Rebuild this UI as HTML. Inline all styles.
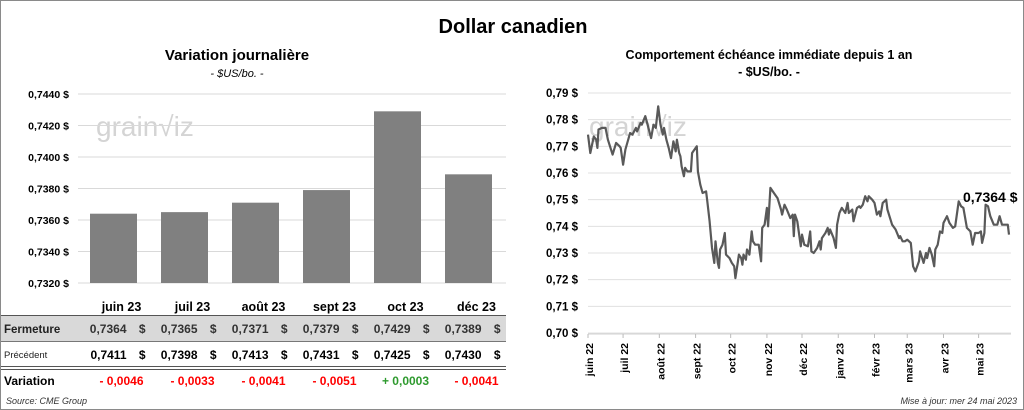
<!DOCTYPE html>
<html><head><meta charset="utf-8"><style>
body{margin:0;background:#fff;}
#wrap{position:relative;width:1022px;height:408px;border:1px solid #8a8a8a;overflow:hidden;font-family:"Liberation Sans",sans-serif;}
svg text{font-family:"Liberation Sans",sans-serif;}
</style></head><body>
<div id="wrap">
<svg id="svg" width="1022" height="408" xmlns="http://www.w3.org/2000/svg">
<text x="512" y="32" text-anchor="middle" font-size="20" font-weight="bold" fill="#000">Dollar canadien</text>
<text x="236" y="59" text-anchor="middle" font-size="15" font-weight="bold" fill="#000">Variation  journalière</text>
<text x="236" y="76" text-anchor="middle" font-size="11" font-style="italic" fill="#000">- $US/bo. -</text>
<text x="768" y="58" text-anchor="middle" font-size="12.5" font-weight="bold" fill="#000">Comportement échéance immédiate depuis 1 an</text>
<text x="768" y="75" text-anchor="middle" font-size="12.5" font-weight="bold" fill="#000">- $US/bo. -</text>
<g id="left"></g>
<g id="right"></g>
<text x="5" y="403" font-size="9" font-style="italic" fill="#333">Source: CME Group</text>
<text x="1016" y="403" text-anchor="end" font-size="9" font-style="italic" fill="#333">Mise à jour: mer 24 mai 2023</text>
</svg>
</div>
<script>
const barCats=["juin 23","juil 23","août 23","sept 23","oct 23","déc 23"];
const closeVals=[0.7364,0.7365,0.7371,0.7379,0.7429,0.7389];
const prevVals=[0.7411,0.7398,0.7413,0.7431,0.7425,0.7430];
const varVals=[-0.0046,-0.0033,-0.0041,-0.0051,0.0003,-0.0041];
const leftTicks=[0.7320,0.7340,0.7360,0.7380,0.7400,0.7420,0.7440];
const lineDays=[0,2,5,7,8,9,12,15,17,21,24,27,28,30,32,36,38,41,42,45,46,49,51,54,56,58,60,62,64,65,67,69,71,73,75,76,78,79,80,82,83,85,88,89,93,94,96,98,101,102,104,106,108,109,111,112,113,115,117,118,121,123,125,126,128,129,131,132,133,135,136,138,140,141,143,146,148,149,151,153,154,156,159,162,165,166,168,170,173,175,176,177,179,182,183,185,188,190,191,193,196,198,199,200,203,205,206,207,210,212,213,215,217,220,222,223,226,227,230,232,233,235,237,239,240,243,245,247,249,250,252,255,256,260,263,266,267,269,271,273,276,278,280,283,284,287,289,290,292,294,296,297,299,301,303,304,307,309,312,314,317,319,321,324,327,329,331,334,336,337,339,340,342,344,347,350,352,354,357,359,360];
const lineVals=[0.7744,0.7675,0.7737,0.7725,0.7694,0.7763,0.7769,0.7769,0.7725,0.7669,0.7713,0.7700,0.7694,0.7631,0.7688,0.7750,0.7744,0.7769,0.7756,0.7788,0.7781,0.7813,0.7781,0.7731,0.7781,0.7769,0.7850,0.7781,0.7744,0.7769,0.7725,0.7694,0.7656,0.7719,0.7681,0.7725,0.7675,0.7663,0.7625,0.7588,0.7619,0.7606,0.7606,0.7675,0.7700,0.7606,0.7556,0.7525,0.7531,0.7494,0.7419,0.7319,0.7263,0.7344,0.7263,0.7244,0.7313,0.7331,0.7375,0.7294,0.7281,0.7263,0.7250,0.7206,0.7263,0.7294,0.7281,0.7256,0.7294,0.7275,0.7313,0.7294,0.7381,0.7344,0.7331,0.7331,0.7269,0.7394,0.7406,0.7469,0.7400,0.7544,0.7525,0.7506,0.7463,0.7444,0.7481,0.7463,0.7431,0.7444,0.7363,0.7444,0.7419,0.7325,0.7369,0.7331,0.7325,0.7381,0.7306,0.7300,0.7319,0.7344,0.7313,0.7356,0.7375,0.7394,0.7369,0.7388,0.7356,0.7319,0.7406,0.7450,0.7469,0.7450,0.7488,0.7450,0.7463,0.7419,0.7469,0.7475,0.7469,0.7481,0.7513,0.7494,0.7513,0.7500,0.7488,0.7444,0.7456,0.7438,0.7488,0.7500,0.7463,0.7406,0.7388,0.7356,0.7363,0.7344,0.7344,0.7350,0.7338,0.7250,0.7231,0.7269,0.7306,0.7263,0.7300,0.7281,0.7319,0.7294,0.7250,0.7313,0.7331,0.7381,0.7375,0.7413,0.7438,0.7413,0.7394,0.7400,0.7494,0.7475,0.7469,0.7394,0.7381,0.7331,0.7375,0.7375,0.7381,0.7338,0.7375,0.7481,0.7475,0.7438,0.7406,0.7406,0.7438,0.7406,0.7406,0.7406,0.7369];
const rightTicks=[0.70,0.71,0.72,0.73,0.74,0.75,0.76,0.77,0.78,0.79];
const monthLabels=["juin 22","juil 22","août 22","sept 22","oct 22","nov 22","déc 22","janv 23","févr 23","mars 23","avr 23","mai 23"];
const monthDays=[0,30,61,92,122,153,183,214,245,273,304,334];
const lastLabel="0,7364 $";

const NS="http://www.w3.org/2000/svg";
function mk(tag,attrs,parent,txt){const e=document.createElementNS(NS,tag);for(const k in attrs)e.setAttribute(k,attrs[k]);if(txt!==undefined)e.textContent=txt;parent.appendChild(e);return e;}
const fmt4=v=>v.toFixed(4).replace('.',',');

// LEFT CHART
const L=document.getElementById('left');
const ly=v=>282-(v-0.7320)/0.0120*189;
const lx0=77,lw=71;
const lxc=i=>lx0+lw*(i+0.5);
mk('text',{x:95,y:135,'font-size':28,fill:'#d4d4d4'},L,'grain\u221Aiz');
leftTicks.forEach(t=>{
  const g=mk('line',{x1:lx0,x2:505,y1:ly(t),y2:ly(t),stroke:'#d9d9d9','stroke-width':1},L);
  
  const tx=mk('text',{x:68,y:ly(t)+4,'text-anchor':'end','font-size':10.5,'font-weight':'bold',fill:'#000'},L,fmt4(t)+' $');
  
});
closeVals.forEach((v,i)=>{
  const r=mk('rect',{x:lxc(i)-23.5,y:ly(v),width:47,height:282-ly(v),fill:'#808080'},L);
  
  
});
// table
mk('rect',{x:0,y:315,width:505,height:25,fill:'#d9d9d9'},L);
mk('line',{x1:0,x2:505,y1:314.5,y2:314.5,stroke:'#555'},L);
mk('line',{x1:0,x2:505,y1:340.5,y2:340.5,stroke:'#777'},L);
mk('line',{x1:0,x2:505,y1:365.5,y2:365.5,stroke:'#555'},L);
mk('line',{x1:0,x2:505,y1:368.5,y2:368.5,stroke:'#555'},L);
let t;
t=mk('text',{x:3,y:332,'font-size':11.5,'font-weight':'bold',fill:'#222'},L,'Fermeture');
t=mk('text',{x:3,y:357,'font-size':9.5,fill:'#222'},L,'Précédent');
t=mk('text',{x:3,y:384,'font-size':12,'font-weight':'bold',fill:'#000'},L,'Variation');
barCats.forEach((c,i)=>{
  const cx=lxc(i)+8;
  t=mk('text',{x:cx,y:310,'text-anchor':'middle','font-size':12.5,'font-weight':'bold',fill:'#000'},L,c);
  
  t=mk('text',{x:cx+5,y:332,'text-anchor':'end','font-size':12,'font-weight':'bold',fill:'#333'},L,fmt4(closeVals[i]));
  
  mk('text',{x:cx+24,y:332,'text-anchor':'end','font-size':12,'font-weight':'bold',fill:'#333'},L,'$');
  t=mk('text',{x:cx+5,y:358,'text-anchor':'end','font-size':12,'font-weight':'bold',fill:'#000'},L,fmt4(prevVals[i]));
  
  mk('text',{x:cx+24,y:358,'text-anchor':'end','font-size':12,'font-weight':'bold',fill:'#000'},L,'$');
  const d=varVals[i];
  t=mk('text',{x:cx,y:384,'text-anchor':'middle','font-size':12,'font-weight':'bold',fill:d>=0?'#2e9a2e':'#ff0000'},L,(d>=0?'+ ':'- ')+fmt4(Math.abs(d)));
  
});

// RIGHT CHART
const R=document.getElementById('right');
const rx=d=>587+d/360*421;
const ry=v=>332-(v-0.70)/0.09*240;
mk('text',{x:588,y:135,'font-size':28,fill:'#d4d4d4'},R,'grain\u221Aiz');
rightTicks.forEach(v=>{
  const g=mk('line',{x1:587,x2:1010,y1:ry(v),y2:ry(v),stroke:'#e0e0e0','stroke-width':1},R);
  
  const tx=mk('text',{x:577,y:ry(v)+4,'text-anchor':'end','font-size':11.5,'font-weight':'bold',fill:'#000'},R,v.toFixed(2).replace('.',',')+' $');
  
});
mk('line',{x1:587,x2:1010,y1:333,y2:333,stroke:'#d0d0d0'},R);
monthDays.forEach((d,i)=>{
  mk('line',{x1:rx(d),x2:rx(d),y1:333,y2:337,stroke:'#bbb'},R);
  const tx=mk('text',{x:0,y:0,'text-anchor':'end','font-size':10.5,'font-weight':'bold',fill:'#000',transform:`translate(${rx(d)+5},342) rotate(-90)`},R,monthLabels[i]);
  
});
const pts=lineDays.map((d,i)=>rx(d).toFixed(1)+','+ry(lineVals[i]).toFixed(1)).join(' ');
const pl=mk('polyline',{points:pts,fill:'none',stroke:'#595959','stroke-width':2.2,'stroke-linejoin':'round'},R);


t=mk('text',{x:962,y:201,'font-size':14,'font-weight':'bold',fill:'#000'},R,lastLabel);

</script>
</body></html>
